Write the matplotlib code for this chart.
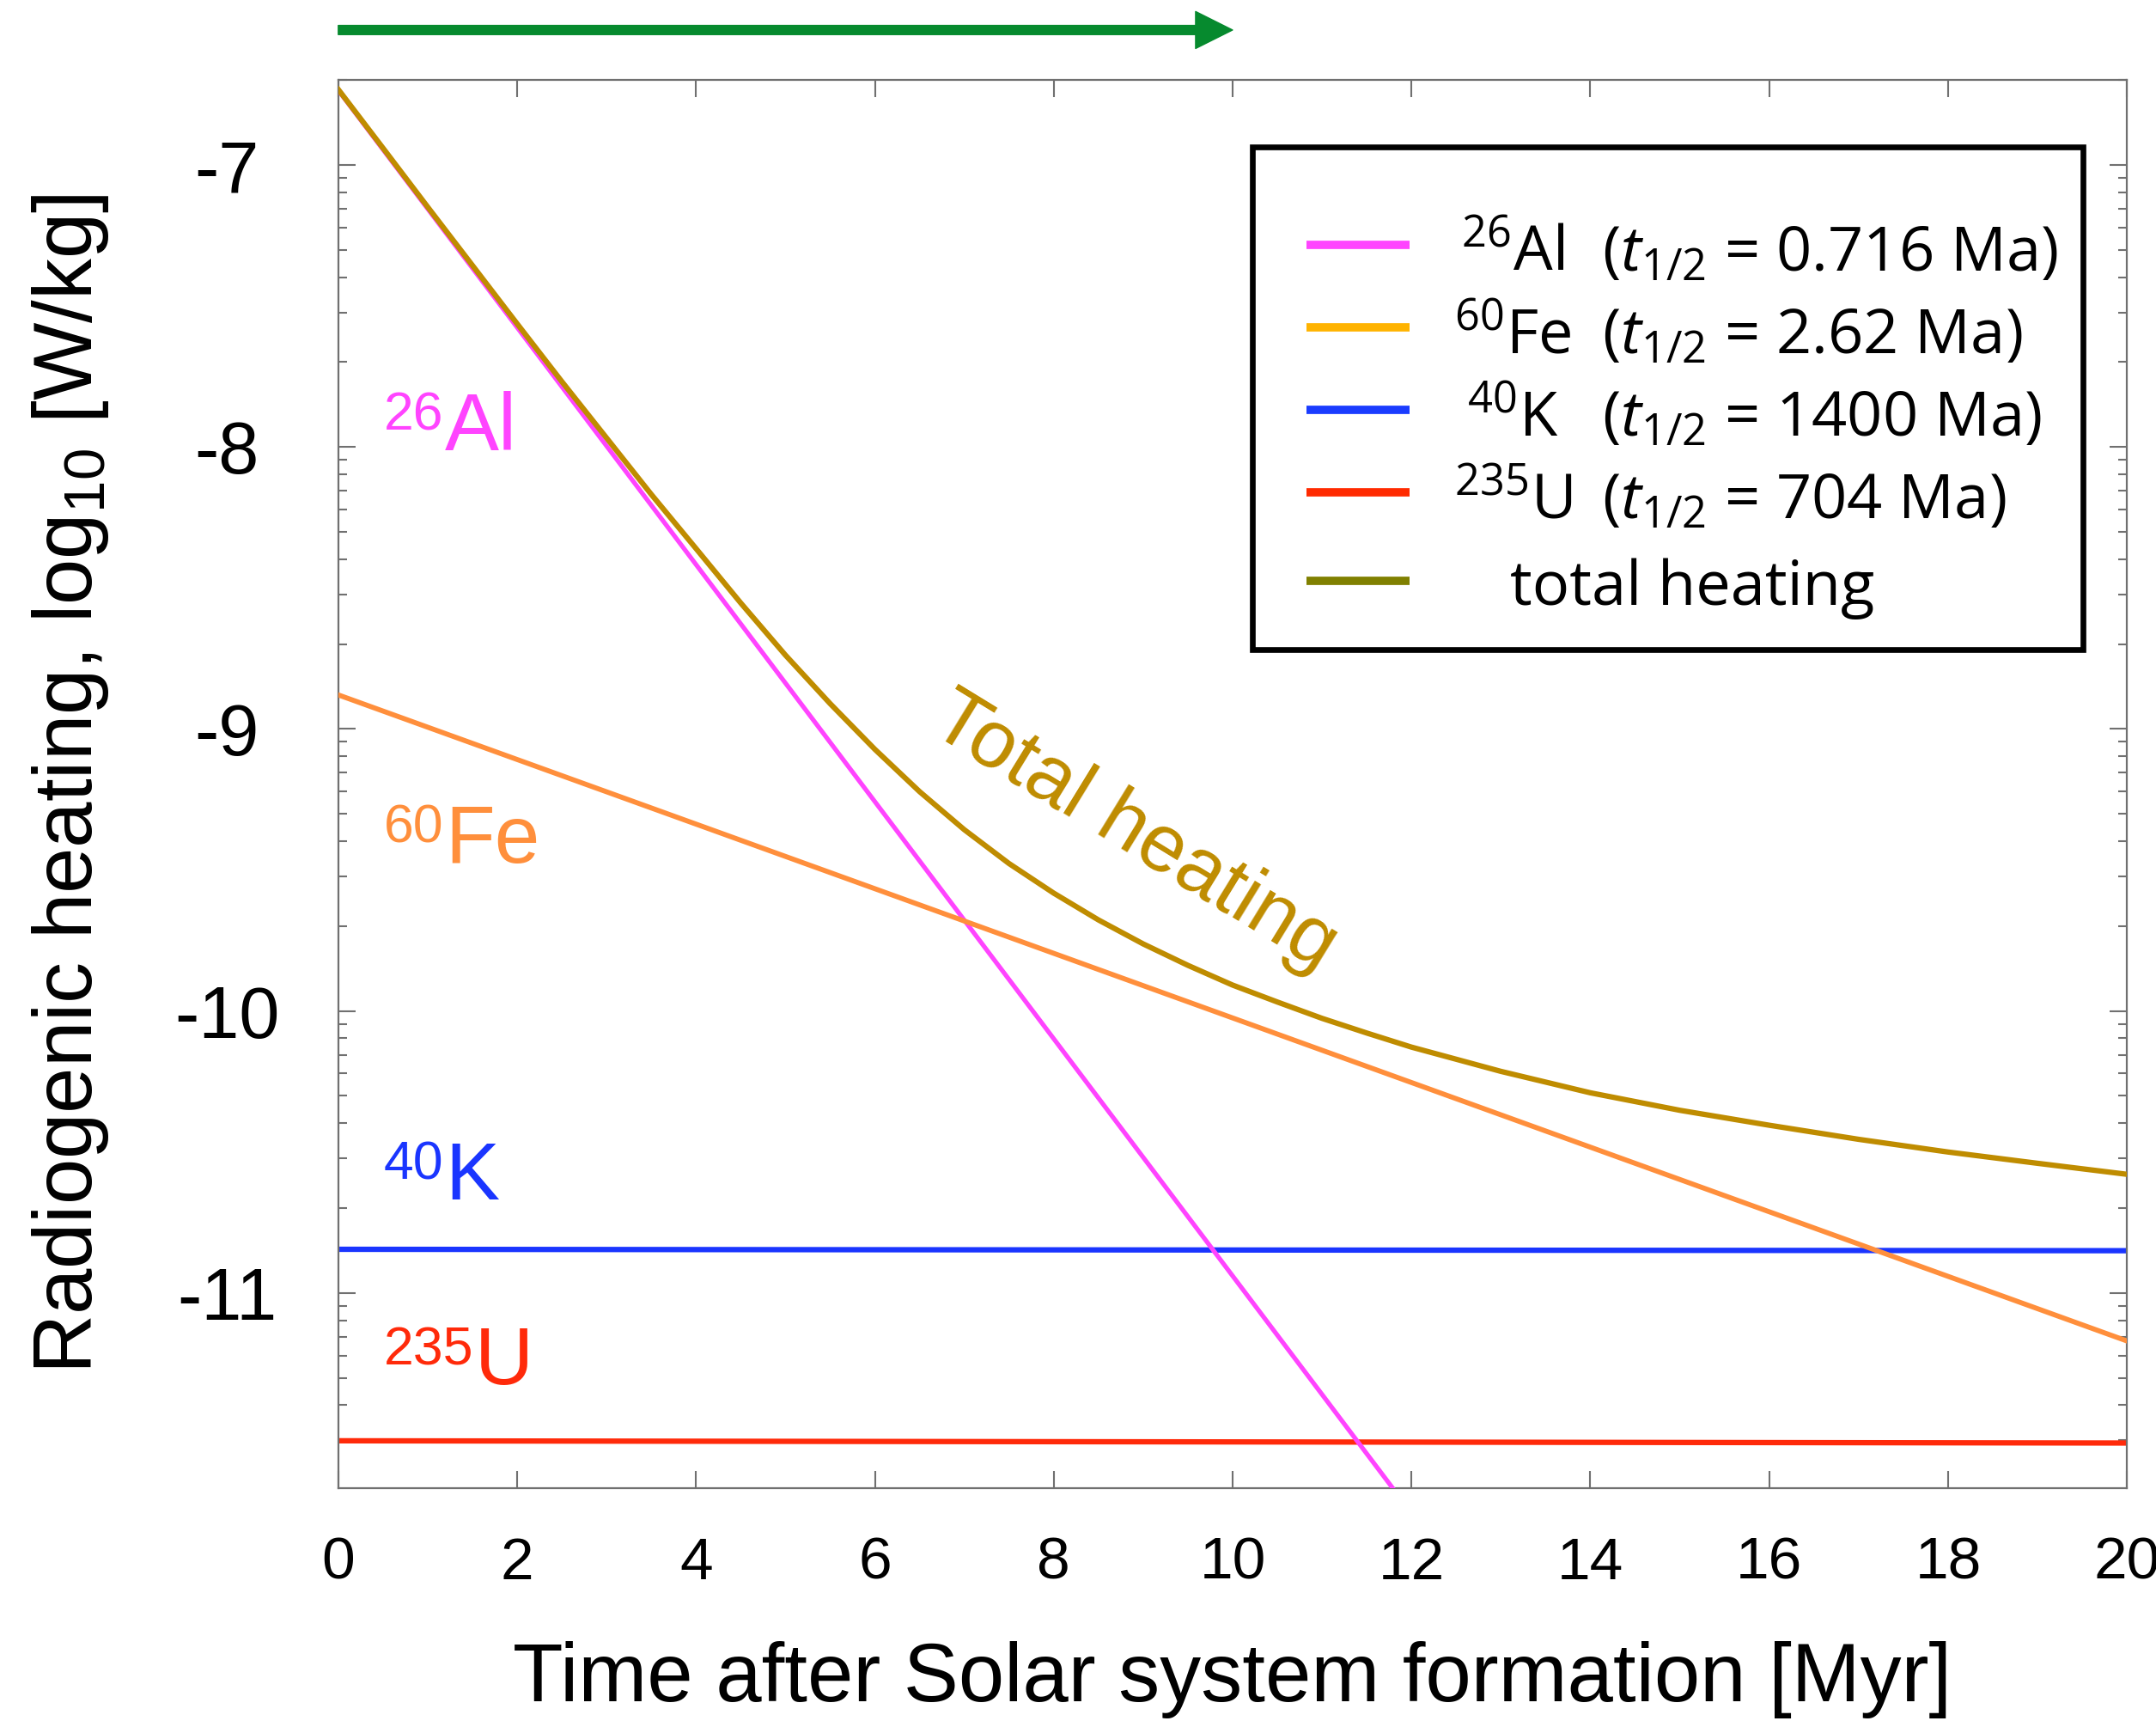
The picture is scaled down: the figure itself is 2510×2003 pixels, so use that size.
import matplotlib
matplotlib.use('Agg')
import matplotlib.pyplot as plt
import numpy as np
from matplotlib.patches import Rectangle
from matplotlib.ticker import FixedLocator

plt.rcParams['font.family'] = ['Liberation Sans', 'DejaVu Sans']
plt.rcParams['axes.unicode_minus'] = False
plt.rcParams['mathtext.fontset'] = 'custom'
plt.rcParams['mathtext.rm'] = 'Open Sans'
plt.rcParams['mathtext.it'] = 'Open Sans:italic'
plt.rcParams['mathtext.sf'] = 'Liberation Sans'

# log10 of heating rate [W/kg] vs time [Myr]
t_al = [0, 12]
q_al = [-6.735, -11.78]
t_fe = [0, 20]
q_fe = [-8.879, -11.17]
t_k = [0, 20]
q_k = [-10.845, -10.850]
t_u = [0, 20]
q_u = [-11.524, -11.532]
t_total = [0, 0.5, 1, 1.5, 2, 2.5, 3, 3.5, 4, 4.5, 5, 5.5, 6, 6.5, 7, 7.5, 8, 8.5,
           9, 9.5, 10, 10.5, 11, 11.5, 12, 13, 14, 15, 16, 17, 18, 19, 20]
q_total = [-6.732, -6.940, -7.149, -7.356, -7.563, -7.768, -7.968, -8.168, -8.36,
           -8.553, -8.738, -8.910, -9.072, -9.222, -9.357, -9.477, -9.582, -9.677,
           -9.762, -9.838, -9.908, -9.968, -10.026, -10.078, -10.128, -10.214,
           -10.290, -10.352, -10.405, -10.455, -10.500, -10.540, -10.579]

isotopes = [r'$^{26}$Al', r'$^{60}$Fe', r'$^{40}$K', r'$^{235}$U']
half_lives = ['0.716', '2.62', '1400', '704']
legend_colors = ['#ff44ff', '#ffb300', '#1a3cff', '#ff2a00', '#808000']

c_al = '#ff44ff'
c_fe = '#ff8f3c'
c_k = '#1a35ff'
c_u = '#ff2a0a'
c_tot = '#bf8c00'

fig = plt.figure(figsize=(25.1, 20.03), dpi=100)
ax = fig.add_axes([0.1569, 0.1353, 0.8296, 0.8183])

ax.plot(t_k, q_k, color=c_k, lw=4.5, zorder=2)
ax.plot(t_u, q_u, color=c_u, lw=4.5, zorder=2)
ax.plot(t_al, q_al, color=c_al, lw=3.8, zorder=3)
ax.plot(t_fe, q_fe, color=c_fe, lw=4.2, zorder=4)
ax.plot(t_total, q_total, color=c_tot, lw=4.5, zorder=5)

ax.set_xlim(0, 20)
ax.set_ylim(-11.692, -6.698)

# axes style: grey frame, inward ticks, log-style minor ticks on y
for s in ax.spines.values():
    s.set_color('#707070')
    s.set_linewidth(1.6)
ax.set_xticks(np.arange(0, 21, 2))
ax.set_yticks([-11, -10, -9, -8, -7])
minor = [n + np.log10(k) for n in range(-12, -6) for k in range(2, 10)]
ax.yaxis.set_minor_locator(FixedLocator(minor))
ax.tick_params(which='both', direction='in', top=True, right=True,
               color='#707070', width=1.5)
ax.tick_params(which='major', length=14.5)
ax.tick_params(which='minor', length=7)
ax.tick_params(axis='x', labelsize=50, pad=40)
ax.tick_params(axis='y', labelsize=61, pad=93.5)
for lbl in ax.get_yticklabels():
    lbl.set_horizontalalignment('center')

ax.set_xlabel('Time after Solar system formation [Myr]', fontsize=69)
ax.xaxis.set_label_coords(0.5, -0.1513)
ax.xaxis.label.set_va('baseline')
ax.set_ylabel(r'Radiogenic heating, log$_{\mathsf{10}}$ [W/kg]', fontsize=69)
ax.yaxis.set_label_coords(-0.1378, 0.5)
ax.yaxis.label.set_va('baseline')

# labels next to the curves: mass number as a raised small number, then the symbol
curve_labels = [('26', 'Al', -8.01, c_al), ('60', 'Fe', -9.473, c_fe),
                ('40', 'K', -10.667, c_k), ('235', 'U', -11.324, c_u)]
for num, sym, y, col in curve_labels:
    ax.annotate(num, xy=(0.51, y), xytext=(0, 16.5), textcoords='offset points',
                fontsize=45, color=col, ha='left', va='baseline')
    ax.annotate(sym, xy=(0.51, y), xytext=(len(num) * 0.556 * 45 + 1, 0),
                textcoords='offset points', fontsize=68, color=col,
                ha='left', va='baseline')
ax.text(8.78, -9.43, 'Total heating', color=c_tot, fontsize=68, rotation=-31.5,
        rotation_mode='anchor', ha='center', va='baseline')

# legend box
box = Rectangle((0.5112, 0.5957), 0.4644, 0.3565, transform=ax.transAxes,
                facecolor='white', edgecolor='black', lw=4.8, zorder=10)
ax.add_patch(box)
row_line = [0.8829, 0.8243, 0.7657, 0.7071, 0.6445]
row_base = [0.8643, 0.8057, 0.7471, 0.6885, 0.6270]
for i in range(5):
    ax.plot([0.5412, 0.5988], [row_line[i], row_line[i]], transform=ax.transAxes,
            color=legend_colors[i], lw=7, solid_capstyle='butt', zorder=11)
leg_kw = dict(transform=ax.transAxes, fontsize=52, family='Open Sans',
              va='baseline', zorder=12)
for i in range(4):
    ax.text(0.6567, row_base[i], isotopes[i], ha='center', **leg_kw)
    ax.text(0.7065, row_base[i],
            r'($\mathit{t}_{\mathit{1/2}}$ = ' + half_lives[i] + ' Ma)',
            ha='left', **leg_kw)
ax.text(0.655, row_base[4], 'total heating', ha='left', **leg_kw)

# green arrow above the frame, first 10 Myr
ax.annotate('', xy=(10, 1.0354), xytext=(0, 1.0354),
            xycoords=('data', 'axes fraction'), textcoords=('data', 'axes fraction'),
            annotation_clip=False,
            arrowprops=dict(arrowstyle='simple,head_length=31,head_width=31,tail_width=7.7',
                            mutation_scale=1, color='#068a2e', shrinkA=0, shrinkB=0))

fig.savefig('out.png', dpi=100)
